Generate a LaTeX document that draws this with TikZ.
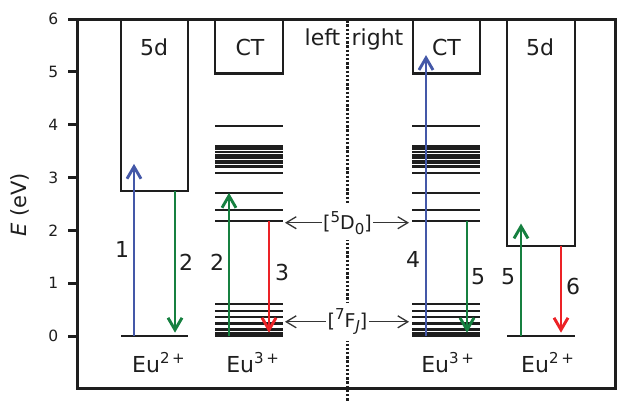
\documentclass[tikz,border=0pt]{standalone}
\usepackage{fontspec}
\setmainfont{DejaVu Sans}
\usetikzlibrary{arrows.meta}
\definecolor{ablue}{RGB}{68,88,168}
\definecolor{agreen}{RGB}{22,128,64}
\definecolor{ared}{RGB}{236,34,38}
\definecolor{ink}{RGB}{30,30,30}
\newcommand\upidx[1]{\raisebox{0.42em}{\fontsize{15}{15}\selectfont #1}}
\newcommand\dnidx[1]{\raisebox{-0.22em}{\fontsize{15}{15}\selectfont #1}}
\begin{document}
\begin{tikzpicture}[x=1pt,y=52.8pt,
  every node/.style={text=ink, inner sep=0pt},
  lbl/.style={font=\fontsize{22}{26}\selectfont},
  ticklbl/.style={font=\fontsize{15.5}{18}\selectfont, anchor=east},
  frame/.style={line width=3pt, draw=ink},
  boxline/.style={line width=2.4pt, draw=ink},
  level/.style={line width=2.3pt, draw=ink},
  trans/.style={line width=2.9pt, -{Straight Barb[length=12pt,width=14pt]}},
  pointer/.style={line width=1.3pt, draw=ink!90, -{Straight Barb[length=10pt,width=12pt]}},
  dotline/.style={line width=2.5pt, draw=ink, dash pattern=on 2.3pt off 1.9pt},
  statelbl/.style={font=\fontsize{19}{22}\selectfont, fill=white, inner xsep=1.5pt, inner ysep=6pt}]
\useasboundingbox (0,-1.25) rectangle (617,6.3636);

% divider
\draw[dotline] (347.5,5.98) -- (347.5,-1.25);

% boxes (5d and CT bands)
\draw[boxline] (121,6) -- (121,2.75) -- (188,2.75) -- (188,6);
\draw[boxline] (215,6) -- (215,4.97) -- (283,4.97) -- (283,6);
\draw[boxline] (413,6) -- (413,4.97) -- (480,4.97) -- (480,6);
\draw[boxline] (507,6) -- (507,1.71) -- (575,1.71) -- (575,6);

% Eu2+ ground levels
\draw[level] (121,0) -- (188,0);
\draw[level] (507,0) -- (575,0);

% Eu3+ levels
\foreach \e in {0,0.046,0.125,0.235,0.354,0.48,0.61,2.18,2.39,2.71,3.09,3.21,3.27,3.32,3.38,3.43,3.49,3.54,3.59,3.98}{
  \draw[level] (215,\e) -- (283,\e);
  \draw[level] (412,\e) -- (480,\e);
}

% frame and ticks
\draw[frame] (77,6) rectangle (615.5,-0.985);
\foreach \e in {0,...,6}{
  \draw[frame] (68,\e) -- (77,\e);
  \node[ticklbl] (t\e) at (58.5,\e) {\e};
}
\node[rotate=90, font=\fontsize{21}{25}\selectfont] (ylab) at (20,2.48) {\textit{E} (eV)};

% band labels
\node[lbl, anchor=base] (d5l) at (154,5.32) {5d};
\node[lbl, anchor=base] (ctl) at (250,5.32) {CT};
\node[lbl, anchor=base] (ctr) at (446.5,5.32) {CT};
\node[lbl, anchor=base] (d5r) at (540,5.32) {5d};
\node[lbl, anchor=base] (left) at (322.5,5.50) {left};
\node[lbl, anchor=base] (right) at (377.5,5.50) {right};

% ion labels
\node[lbl, anchor=base] (eu2l) at (158.5,-0.688) {Eu\upidx{2\hspace{0.18em}+}};
\node[lbl, anchor=base] (eu3l) at (252.6,-0.688) {Eu\upidx{3\hspace{0.18em}+}};
\node[lbl, anchor=base] (eu3r) at (447.6,-0.688) {Eu\upidx{3\hspace{0.18em}+}};
\node[lbl, anchor=base] (eu2r) at (547.5,-0.688) {Eu\upidx{2\hspace{0.18em}+}};

% transitions
\coordinate (a1s) at (134,0);     \coordinate (a1e) at (134,3.26);
\coordinate (a2s) at (175,2.75);  \coordinate (a2e) at (175,0.063);
\coordinate (b2s) at (229,0);     \coordinate (b2e) at (229,2.71);
\coordinate (a3s) at (269,2.18);  \coordinate (a3e) at (269,0.063);
\coordinate (a4s) at (426,0);     \coordinate (a4e) at (426,5.32);
\coordinate (a5s) at (467,2.18);  \coordinate (a5e) at (467,0.063);
\coordinate (b5s) at (521,0);     \coordinate (b5e) at (521,2.13);
\coordinate (a6s) at (561,1.71);  \coordinate (a6e) at (561,0.063);
\draw[trans, ablue]  (a1s) -- (a1e);
\draw[trans, agreen] (a2s) -- (a2e);
\draw[trans, agreen] (b2s) -- (b2e);
\draw[trans, ared]   (a3s) -- (a3e);
\draw[trans, ablue]  (a4s) -- (a4e);
\draw[trans, agreen] (a5s) -- (a5e);
\draw[trans, agreen] (b5s) -- (b5e);
\draw[trans, ared]   (a6s) -- (a6e);

\node[lbl] (n1) at (122,1.63) {1};
\node[lbl] (n2a) at (186,1.40) {2};
\node[lbl] (n2b) at (217,1.40) {2};
\node[lbl] (n3) at (282,1.21) {3};
\node[lbl] (n4) at (413,1.44) {4};
\node[lbl] (n5a) at (478,1.12) {5};
\node[lbl] (n5b) at (508,1.12) {5};
\node[lbl] (n6) at (573,0.93) {6};

% state labels with pointers
\node[statelbl, anchor=base] (d0) at (347.5,2.008) {[\upidx{5}D\dnidx{0}]};
\node[statelbl, anchor=base] (fj) at (347.5,0.158) {[\upidx{7}F\dnidx{\textit{J}}]};
\coordinate (pl) at (285,0);
\coordinate (pr) at (409,0);
\draw[pointer] (d0.west) -- (d0.west -| pl);
\draw[pointer] (d0.east) -- (d0.east -| pr);
\draw[pointer] (fj.west) -- (fj.west -| pl);
\draw[pointer] (fj.east) -- (fj.east -| pr);
\end{tikzpicture}
\end{document}
